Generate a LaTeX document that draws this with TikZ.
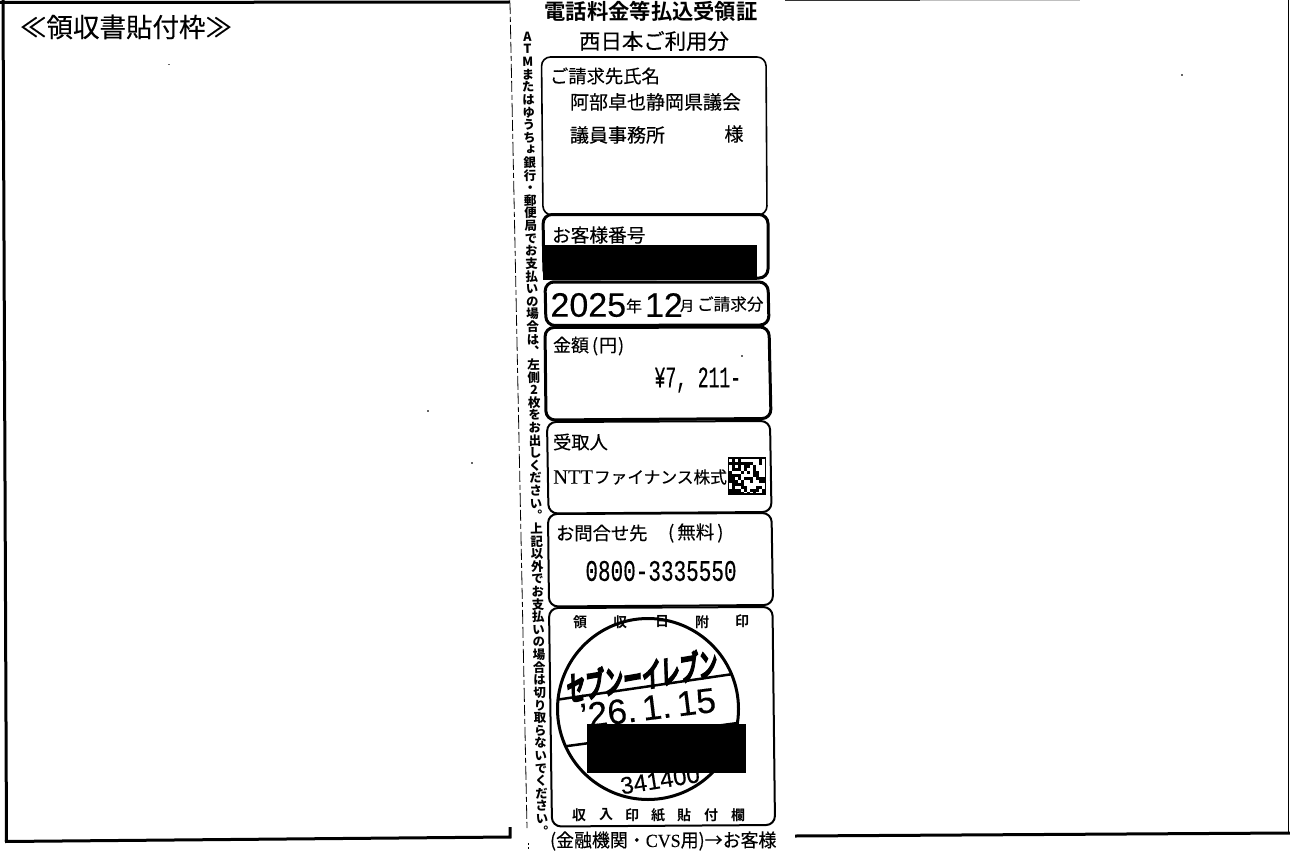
\documentclass[tikz,border=0pt]{standalone}
\usepackage{fontspec}
\setmainfont{Noto Sans CJK JP}
\newfontfamily\jp[FakeBold=0.25]{Noto Sans CJK JP}
\newfontfamily\jpb{Noto Sans CJK JP Bold}
\newfontfamily\jph[FakeBold=4]{Noto Sans CJK JP Bold}
\newfontfamily\vjp[RawFeature={+vert}]{Noto Sans CJK JP}
\newfontfamily\ar[FakeBold=0.2]{Liberation Sans}
\newfontfamily\mo[FakeBold=0.3]{Liberation Mono}
\newfontfamily\se[FakeBold=0.15]{Liberation Serif}
\tikzset{
  jt/.style={font=\jp\fontsize{#1}{#1}\selectfont,inner sep=0pt,outer sep=0pt,anchor=west},
  jc/.style={font=\jp\fontsize{#1}{#1}\selectfont,inner sep=0pt,outer sep=0pt,anchor=center},
  jb/.style={font=\jpb\fontsize{#1}{#1}\selectfont,inner sep=0pt,outer sep=0pt,anchor=center},
  num/.style={font=\ar\fontsize{#1}{#1}\selectfont,inner sep=0pt,outer sep=0pt,anchor=center},
  monotext/.style={font=\mo\fontsize{#1}{#1}\selectfont,inner sep=0pt,outer sep=0pt},
  frameline/.style={line width=3pt,line cap=butt,line join=miter},
  thinbox/.style={line width=1.6pt,rounded corners=9pt},
  thickbox/.style={line width=3pt,rounded corners=9pt},
  midbox/.style={line width=2pt,rounded corners=9pt},
  perf/.style={line width=0.8pt,dash pattern=on 11pt off 3pt on 5pt off 3pt on 14pt off 3pt},
  speck/.style={fill=black!60,draw=none},
}
\begin{document}
\begin{tikzpicture}[x=1pt,y=-1pt]
\useasboundingbox (0,0) rectangle (1290,851);
\fill[white] (0,0) rectangle (1290,851);
% outer frame
\draw[frameline] (510,2) -- (0,2.5);
\draw[frameline] (3,0) -- (6.5,842);
\draw[frameline] (5,841.5) -- (510,837) -- (510,827);
\draw[frameline] (795,836) -- (1290,833);
\draw[line width=1.5pt] (1288.5,0) -- (1288.5,833);
\draw[line width=1pt,black!80] (785,0.4) -- (920,0.4);
\draw[line width=1pt,black!25] (920,0.4) -- (1080,0.4);
% perforation
\draw[perf] (510,3) -- (527,828);
\draw[line width=0.8pt,dash pattern=on 2pt off 2pt] (528,843) -- (528,851);
% heading
\node[jt=26.5] (title) at (20,27) {≪領収書貼付枠≫};
\node[jb=21.3] (t1) at (651,11) {電話料金等払込受領証};
\node[jc=21.4] (t2) at (654,41) {西日本ご利用分};
% vertical note
\node[inner sep=0pt,align=center,rotate=1.08,
  font=\vjp\bfseries\fontsize{12.5}{12.62}\selectfont] (vnote) at (534.8,434)
{\lineskiplimit=-100pt A\\T\\M\\ま\\た\\は\\ゆ\\う\\ち\\ょ\\銀\\行\\・\\郵\\便\\局\\で\\お\\支\\払\\い\\の\\場\\合\\は\\、\\左\\側\\2\\枚\\を\\お\\出\\し\\く\\だ\\さ\\い\\。\\上\\記\\以\\外\\で\\お\\支\\払\\い\\の\\場\\合\\は\\切\\り\\取\\ら\\な\\い\\で\\く\\だ\\さ\\い\\。};
% boxes
\draw[thinbox] (541.5,57) -- (766,57) -- (767,215) -- (543,215) -- cycle;
\draw[thickbox] (543,214.5) -- (768,214.5) -- (768,278) -- (544,279) -- cycle;
\fill (543,245) rectangle (757,280);
\draw[thickbox] (545,282) -- (768,282) -- (769,325) -- (546,325.5) -- cycle;
\draw[thickbox] (545,327.5) -- (769,327) -- (771,418.5) -- (546,420) -- cycle;
\draw[midbox] (547,422) -- (770,421) -- (771.5,512) -- (548.5,513.5) -- cycle;
\draw[midbox] (548,514) -- (771.5,513) -- (773,605) -- (549,606.5) -- cycle;
\draw[midbox] (549,608) -- (772.5,607) -- (775,825) -- (552,826.5) -- cycle;
% box 1 text
\node[jt=18.3] (n1) at (550,76) {ご請求先氏名};
\node[jt=19] (n2) at (570,102) {阿部卓也静岡県議会};
\node[jt=19] (n3) at (570,135) {議員事務所};
\node[jc=19] (n4) at (734,134) {様};
% box 2
\node[jt=18.7] (n5) at (552,235) {お客様番号};
% box 3
\node[num=34,anchor=west] (y1) at (550.5,305) {2025};
\node[jc=16] (y2) at (634,306) {年};
\node[num=34,anchor=west] (y3) at (645,305) {12};
\node[jc=14] (y4) at (687,306) {月};
\node[jt=16.6] (y5) at (697,304) {ご請求分};
% box 4
\node[jt=18] (a1) at (553,346) {金額\kern3pt(\kern1pt円\kern1pt)};
\node[monotext=30,xscale=0.6,anchor=east] (a2) at (741,380) {¥7, 211-};
% box 5
\node[jt=18.3] (r1) at (553,442) {受取人};
\node[font=\se\fontsize{20.5}{20.5}\selectfont,inner sep=0pt,anchor=west] (r2) at (553,477) {NTT};
\node[jt=16.7] (r3) at (594,477) {ファイナンス株式};
% seal
\begin{scope}
\pgfmathsetseed{4217}
\draw[line width=1.5pt] (728.5,458) rectangle (765.5,494);
\foreach \ix in {0,...,11}{
  \foreach \iy in {0,...,11}{
    \pgfmathsetmacro{\thr}{\ix<5 ? 0.68 : 0.42}
    \pgfmathsetmacro{\rv}{rnd}
    \pgfmathparse{\rv<\thr ? 1 : 0}
    \ifnum\pgfmathresult=1
      \fill ({729+\ix*3},{458.5+\iy*3}) rectangle +(3,3);
    \fi
  }
}
\fill (728,490) rectangle (735,495);
\end{scope}
% box 6
\node[jt=18.3] (q1) at (556,533) {お問合せ先};
\node[jt=18.5] (q2) at (668,533) {(\kern3pt無料\kern3pt)};
\node[monotext=30,xscale=0.7] (q3) at (661,571) {0800-3335550};
% box 7 top labels
\node[jb=14] (s1) at (580,622) {領};
\node[jb=14] (s2) at (620,622) {収};
\node[jb=14] (s3) at (662,622) {日};
\node[jb=14] (s4) at (702,622) {附};
\node[jb=14] (s5) at (742,621) {印};
% stamp
\draw[line width=3pt] (648,709) circle (90.5);
\begin{scope}
\clip (648,709) circle (90);
\draw[line width=2.5pt] (555,700) -- (740,673);
\draw[line width=2.5pt] (560,747) -- (745,722);
\end{scope}
\node[font=\jph\fontsize{33}{33}\selectfont,inner sep=0pt,rotate=10,xscale=0.58,xslant=0.25] (s6) at (642,675) {セブンーイレブン};
\node[num=35,rotate=7] (s7) at (648,708) {’26.\,1.\,15};
\node[num=24,rotate=9] (s8) at (660,780) {341400};
\fill (587,724) rectangle (746,773);
% bottom labels
\node[jb=14] (b1) at (579,815) {収};
\node[jb=14] (b2) at (606,815) {入};
\node[jb=14] (b3) at (632,815) {印};
\node[jb=14] (b4) at (658,815) {紙};
\node[jb=14] (b5) at (684,815) {貼};
\node[jb=14] (b6) at (711,815) {付};
\node[jb=14] (b7) at (738,815) {欄};
\node[jt=18.5,xscale=0.97] (c1) at (550,841) {(金融機関・{\se CVS}用)→お客様};
% specks
\fill[speck] (168,64) rectangle +(1.5,1.5);
\fill[speck] (427,410) rectangle +(1.5,1.5);
\fill[speck] (471,462) rectangle +(1.5,1.5);
\fill[speck] (1181,74) rectangle +(1.5,1.5);
\fill[speck] (741,355) rectangle +(1.5,1.5);
\end{tikzpicture}
\end{document}
